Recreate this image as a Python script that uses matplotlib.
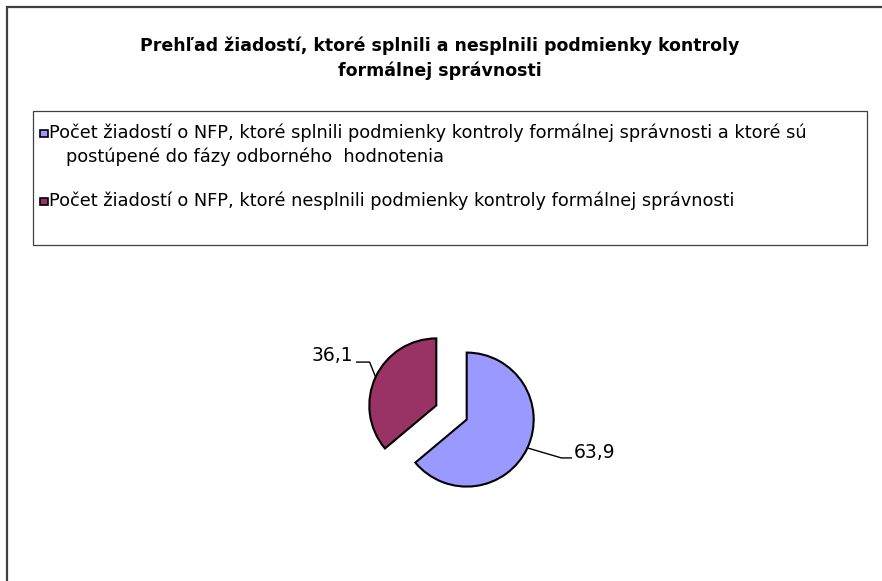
import numpy as np
import matplotlib
matplotlib.use("Agg")
import matplotlib.pyplot as plt
from matplotlib.patches import Rectangle

W, H = 882, 581

title_lines = ["Prehľad žiadostí, ktoré splnili a nesplnili podmienky kontroly",
               "formálnej správnosti"]
categories = [
    "Počet žiadostí o NFP, ktoré splnili podmienky kontroly formálnej správnosti a ktoré sú\npostúpené do fázy odborného  hodnotenia",
    "Počet žiadostí o NFP, ktoré nesplnili podmienky kontroly formálnej správnosti",
]
values = [63.9, 36.1]
colors = ["#9999FF", "#993366"]

plt.rcParams["font.family"] = ["DejaVu Sans"]


def Y(y):
    # pixel row (from top) -> data y
    return H - y


fig = plt.figure(figsize=(W / 100, H / 100), dpi=100)
ax = fig.add_axes([0, 0, 1, 1])

# chart frame (left and top edges visible)
ax.plot([7, 7, W + 5], [Y(H + 5), Y(7), Y(7)], color="#404040", lw=1.6,
        solid_joinstyle="miter", clip_on=False)

# title
ax.text(440, Y(46), title_lines[0], ha="center", va="center",
        fontsize=12.5, fontweight="bold")
ax.text(440, Y(71), title_lines[1], ha="center", va="center",
        fontsize=12.5, fontweight="bold")

# legend box
ax.add_patch(Rectangle((33, Y(245)), 834, 134, fill=False,
                       edgecolor="#404040", lw=0.9))
legend_y = [133, 201]
for lab, col, ly in zip(categories, colors, legend_y):
    ax.add_patch(Rectangle((40, Y(ly + 4)), 7.5, 7.5, facecolor=col,
                           edgecolor="black", lw=1.2))
    lines = lab.split("\n")
    ax.text(49, Y(ly), lines[0], ha="left", va="center", fontsize=12.8)
    if len(lines) > 1:
        ax.text(66, Y(ly + 24), lines[1], ha="left", va="center", fontsize=12.8)

# pie (explode is in data units here, ~quarter of the radius)
cx, cy, r = 451.5, Y(412.5), 67
wedges, _ = ax.pie(values, colors=colors, startangle=90, counterclock=False,
                   explode=[0.25 * r, 0.25 * r], center=(cx, cy), radius=r,
                   wedgeprops=dict(edgecolor="black", linewidth=1.5))

# data labels with leader lines
offsets = [((34, -10), (44, -10)), ((-6, 15), (-19, 15))]
for w, v, (elb, end) in zip(wedges, values, offsets):
    ang = np.deg2rad((w.theta1 + w.theta2) / 2)
    wx, wy = w.center
    ex, ey = wx + r * np.cos(ang), wy + r * np.sin(ang)
    x1, y1 = ex + elb[0], ey + elb[1]
    x2, y2 = ex + end[0], ey + end[1]
    ax.plot([ex, x1, x2], [ey, y1, y2], color="black", lw=1.0)
    txt = f"{v:.1f}".replace(".", ",")
    if end[0] > 0:
        ax.text(x2 + 2, y2 + 5, txt, ha="left", va="center", fontsize=13.5)
    else:
        ax.text(x2 - 3, y2 + 7, txt, ha="right", va="center", fontsize=13.5)

ax.set_xlim(0, W)
ax.set_ylim(0, H)
ax.set_aspect("auto")
ax.axis("off")

fig.savefig("out.png", dpi=100)
